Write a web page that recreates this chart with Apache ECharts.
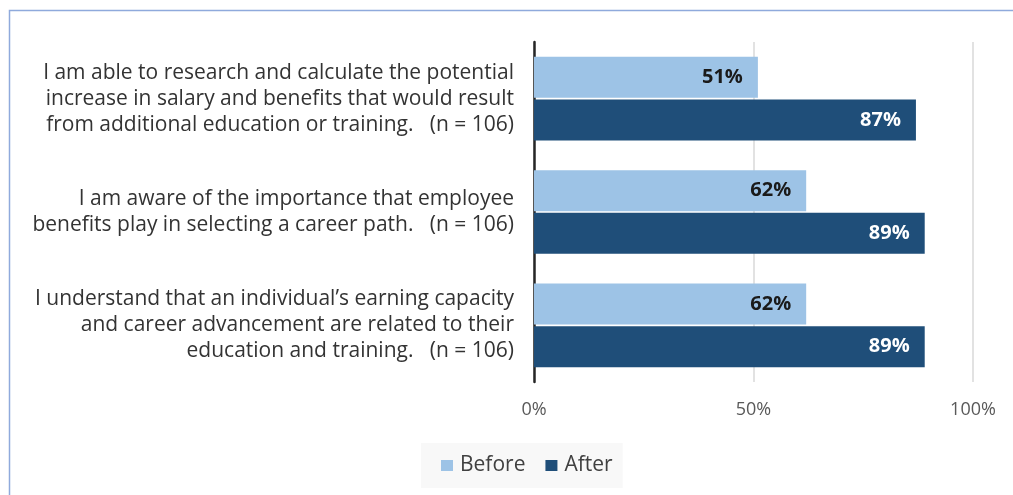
<!DOCTYPE html>
<html>
<head>
<meta charset="utf-8">
<script src="https://cdn.jsdelivr.net/npm/echarts@6/dist/echarts.min.js"></script>
<style>
  html, body { margin: 0; padding: 0; background: #ffffff; }
  #chart { width: 1013px; height: 495px; }
</style>
</head>
<body>
<div id="chart"></div>
<script>
// Survey statements (top to bottom)
const categories = [
  'I am able to research and calculate the potential\nincrease in salary and benefits that would result\nfrom additional education or training.   (n = 106)',
  'I am aware of the importance that employee\nbenefits play in selecting a career path.   (n = 106)',
  'I understand that an individual\u2019s earning capacity\nand career advancement are related to their\neducation and training.   (n = 106)'
];
// Share agreeing, in percent
const beforeValues = [51, 62, 62];
const afterValues = [87, 89, 89];
const seriesNames = ['Before', 'After'];
const xTicks = [0, 50, 100];

const FONT = '"Open Sans", Lato, sans-serif';

const chart = echarts.init(document.getElementById('chart'), null, { renderer: 'canvas' });

chart.setOption({
  animation: false,
  backgroundColor: '#ffffff',
  textStyle: { fontFamily: FONT },
  graphic: [{
    type: 'rect',
    shape: { x: 9.5, y: 10.5, width: 1100, height: 600 },
    style: { fill: 'none', stroke: '#8faadc', lineWidth: 1.5 },
    silent: true
  }],
  grid: { left: 534, right: 40, top: 42, bottom: 113, containLabel: false },
  legend: {
    data: seriesNames,
    left: 421,
    top: 443,
    backgroundColor: '#f8f8f8',
    padding: [12, 10, 12, 20],
    icon: 'rect',
    itemWidth: 12,
    itemHeight: 11,
    itemGap: 20,
    textStyle: { fontFamily: FONT, fontSize: 21, color: '#404040', padding: [0, 0, 0, 2] }
  },
  xAxis: {
    type: 'value',
    min: xTicks[0],
    max: xTicks[xTicks.length - 1],
    interval: xTicks[1] - xTicks[0],
    axisLine: { show: false },
    axisTick: { show: false },
    splitLine: { show: true, lineStyle: { color: '#d9d9d9', width: 1.5 } },
    axisLabel: {
      formatter: '{value}%',
      color: '#595959',
      fontFamily: FONT,
      fontSize: 18,
      margin: 19
    }
  },
  yAxis: {
    type: 'category',
    data: categories,
    inverse: true,
    axisLine: { show: true, lineStyle: { color: '#262626', width: 2.5 } },
    axisTick: { show: false },
    splitLine: { show: false },
    axisLabel: {
      color: '#333333',
      fontFamily: FONT,
      fontSize: 21,
      lineHeight: 26,
      margin: 20,
      align: 'right'
    }
  },
  series: [
    {
      name: seriesNames[0],
      type: 'bar',
      data: beforeValues,
      barWidth: 41,
      barGap: '4%',
      itemStyle: { color: '#9dc3e6' },
      label: {
        show: true,
        position: 'insideRight',
        distance: 15,
        formatter: '{c}%',
        color: '#1a1a1a',
        fontFamily: FONT,
        fontSize: 20,
        fontWeight: 'bold'
      }
    },
    {
      name: seriesNames[1],
      type: 'bar',
      data: afterValues,
      barWidth: 41,
      itemStyle: { color: '#1f4e79' },
      label: {
        show: true,
        position: 'insideRight',
        distance: 15,
        formatter: '{c}%',
        color: '#ffffff',
        fontFamily: FONT,
        fontSize: 20,
        fontWeight: 'bold'
      }
    }
  ]
});
</script>
</body>
</html>
